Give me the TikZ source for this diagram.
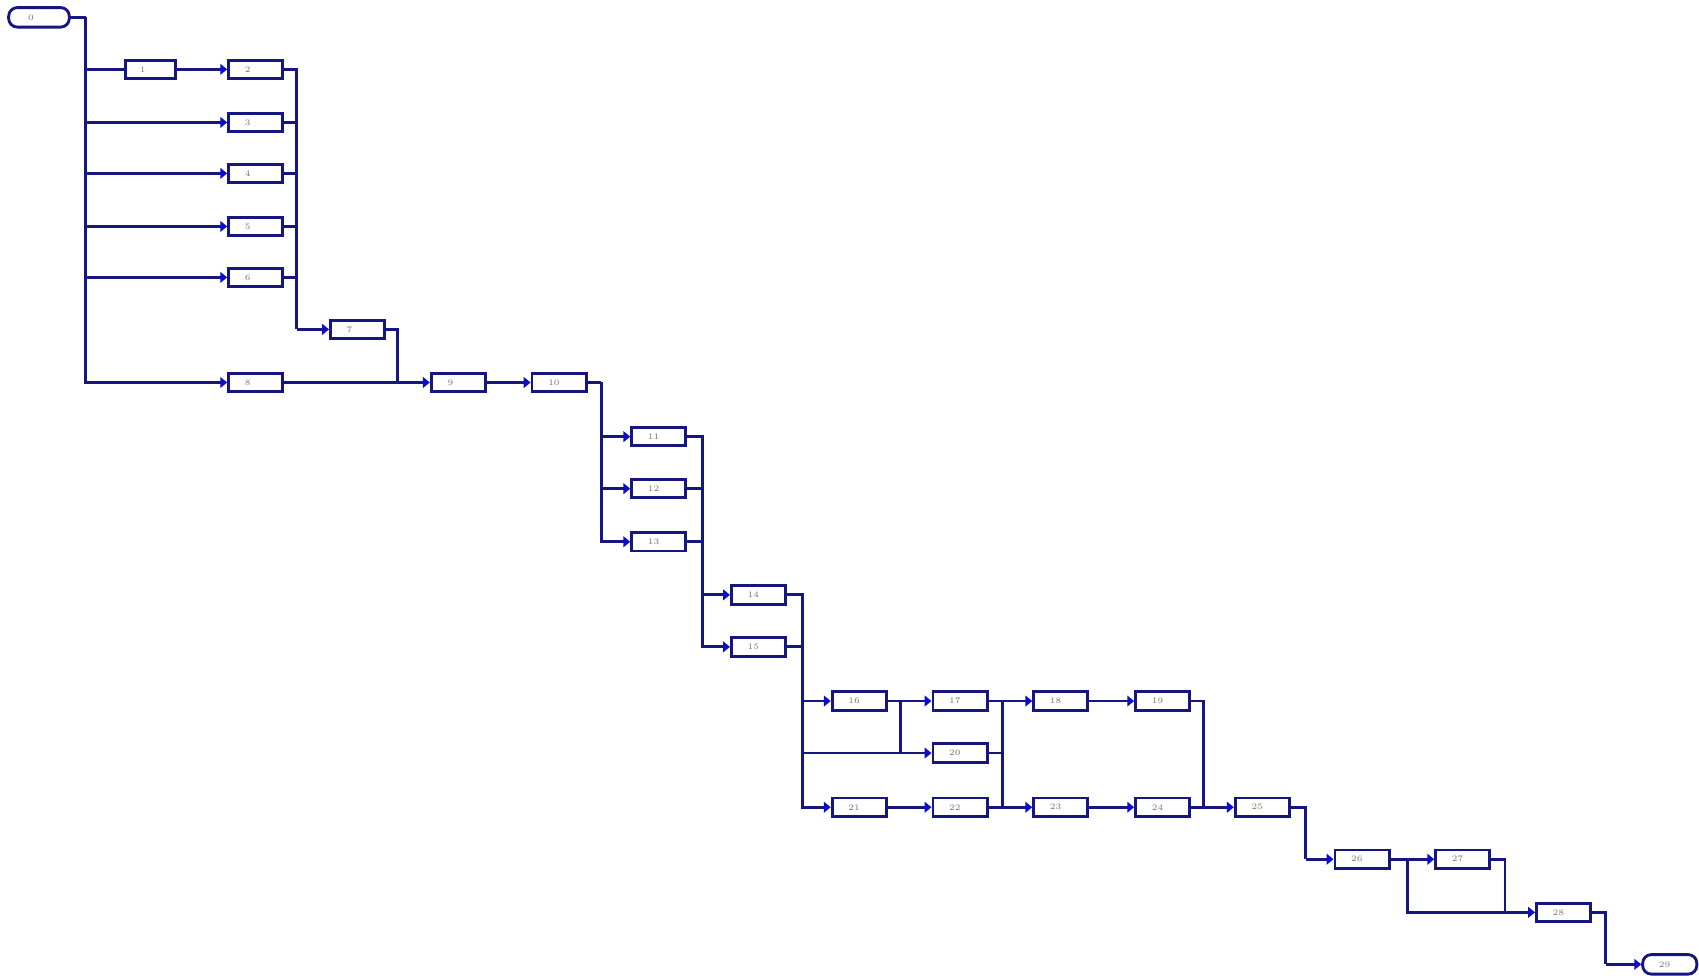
\documentclass[tikz,border=0pt]{standalone}
\usepackage{tikz}
\usetikzlibrary{arrows.meta, positioning}

\definecolor{netline}{RGB}{22,22,128}
\definecolor{netarrow}{RGB}{12,12,205}
\definecolor{netlabel}{RGB}{120,120,110}

\begin{document}
\begin{tikzpicture}[
    x=0.1mm, y=-0.1mm,
    task/.style={rectangle, draw=netline, line width=0.75pt, fill=white, minimum width=5mm, minimum height=1.7mm, inner sep=0pt, text width=2mm, align=left, text=netlabel, font=\fontsize{2.2}{2.6}\selectfont},
    terminal/.style={task, rounded corners=0.8mm, minimum height=1.8mm},
    link/.style={draw=netline, line width=0.75pt},
    flow/.style={link, -{Triangle[length=1.8pt, width=2.8pt, color=netarrow]}}
]
    \useasboundingbox (0,0) rectangle (1568,900);

    % start and the first fan
    \node[terminal, minimum width=5.6mm] (start) at (36,16) {0};
    \node[task, minimum width=4.6mm] (t1) at (139,64) {1};
    \node[task] (t2) at (236,64) {2};
    \node[task] (t3) at (236,113) {3};
    \node[task] (t4) at (236,160) {4};
    \node[task] (t5) at (236,209) {5};
    \node[task] (t6) at (236,256) {6};
    \node[task] (t7) at (330,304) {7};
    \node[task] (t8) at (236,353) {8};
    \node[task] (t9) at (423,353) {9};
    \node[task] (t10) at (516,353) {10};

    % middle stages
    \node[task] (t11) at (608,403) {11};
    \node[task] (t12) at (608,451) {12};
    \node[task] (t13) at (608,500) {13};
    \node[task] (t14) at (700,549) {14};
    \node[task] (t15) at (700,597) {15};

    % three parallel rows
    \node[task] (t16) at (793,647) {16};
    \node[task] (t17) at (886,647) {17};
    \node[task] (t18) at (979,647) {18};
    \node[task] (t19) at (1073,647) {19};
    \node[task] (t20) at (886,695) {20};
    \node[task] (t21) at (793,745) {21};
    \node[task] (t22) at (886,745) {22};
    \node[task] (t23) at (979,745) {23};
    \node[task] (t24) at (1073,745) {24};
    \node[task] (t25) at (1165,745) {25};

    % tail
    \node[task] (t26) at (1257,793) {26};
    \node[task] (t27) at (1350,793) {27};
    \node[task] (t28) at (1443,842) {28};
    \node[terminal] (finish) at (1541,890) {29};

    % junction points
    \coordinate (fanA) at (79,16);
    \coordinate (joinA) at (274,304);
    \coordinate (joinB) at (367,353);
    \coordinate (fanB) at (555,353);
    \coordinate (hubC) at (648,549);
    \coordinate (hubD) at (741,647);
    \coordinate (splitO) at (831,647);
    \coordinate (joinE) at (925,745);
    \coordinate (joinF) at (1111,745);
    \coordinate (dropG) at (1205,793);
    \coordinate (splitY) at (1299,793);
    \coordinate (joinH) at (1389,842);
    \coordinate (dropI) at (1482,890);

    % connectors
    \draw[link] (start) -- (fanA);
    \draw[link] (fanA) |- (t1);
    \draw[flow] (t1) -- (t2);
    \draw[flow] (fanA) |- (t3);
    \draw[flow] (fanA) |- (t4);
    \draw[flow] (fanA) |- (t5);
    \draw[flow] (fanA) |- (t6);
    \draw[flow] (fanA) |- (t8);
    \draw[link] (t2) -| (joinA);
    \draw[link] (t3) -| (joinA);
    \draw[link] (t4) -| (joinA);
    \draw[link] (t5) -| (joinA);
    \draw[link] (t6) -| (joinA);
    \draw[flow] (joinA) -- (t7);
    \draw[link] (t7) -| (joinB);
    \draw[flow] (t8) -- (t9);
    \draw[flow] (t9) -- (t10);
    \draw[link] (t10) -- (fanB);
    \draw[flow] (fanB) |- (t11);
    \draw[flow] (fanB) |- (t12);
    \draw[flow] (fanB) |- (t13);
    \draw[link] (t11) -| (hubC);
    \draw[link] (t12) -| (hubC);
    \draw[link] (t13) -| (hubC);
    \draw[flow] (hubC) -- (t14);
    \draw[flow] (hubC) |- (t15);
    \draw[link] (t14) -| (hubD);
    \draw[link] (t15) -| (hubD);
    \draw[flow] (hubD) -- (t16);
    \draw[flow] (hubD) |- (t20);
    \draw[flow] (hubD) |- (t21);
    \draw[flow] (t16) -- (t17);
    \draw[link] (splitO) -- (splitO |- t20);
    \draw[flow] (t17) -- (t18);
    \draw[flow] (t18) -- (t19);
    \draw[link] (t20) -| (joinE);
    \draw[link] (joinE |- t17) -- (joinE);
    \draw[link] (t19) -| (joinF);
    \draw[flow] (t21) -- (t22);
    \draw[flow] (t22) -- (t23);
    \draw[flow] (t23) -- (t24);
    \draw[flow] (t24) -- (t25);
    \draw[link] (t25) -| (dropG);
    \draw[flow] (dropG) -- (t26);
    \draw[flow] (t26) -- (t27);
    \draw[flow] (splitY) |- (t28);
    \draw[link] (t27) -| (joinH);
    \draw[link] (t28) -| (dropI);
    \draw[flow] (dropI) -- (finish);
\end{tikzpicture}
\end{document}
